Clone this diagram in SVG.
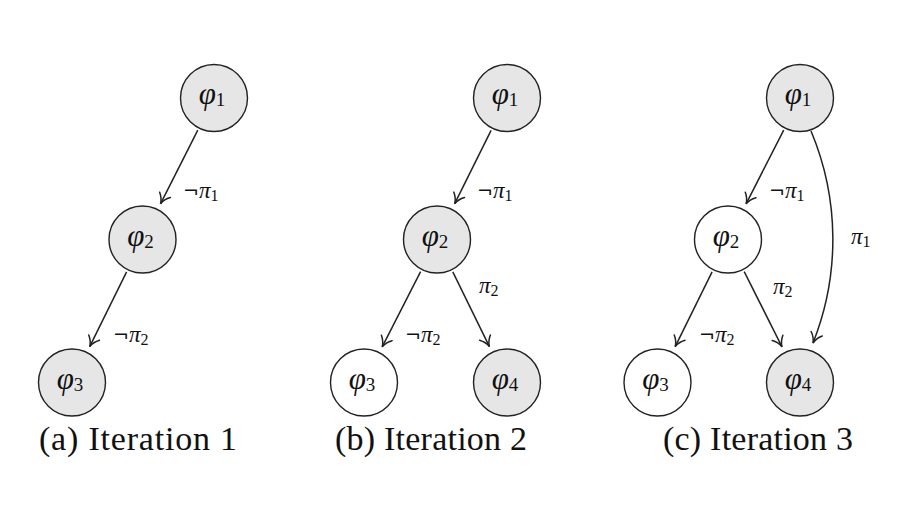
<svg xmlns="http://www.w3.org/2000/svg" width="918" height="517" viewBox="0 0 918 517">
<style>
.node circle{stroke:#222;stroke-width:1.4}
.filled circle{fill:#e6e6e6}
.empty circle{fill:#ffffff}
.edge{fill:none;stroke:#222;stroke-width:1.5;marker-end:url(#arr)}
.nt{font-family:"Liberation Serif",serif;font-size:31px;fill:#111}
.gr{font-style:italic}
.sub{font-family:"Liberation Serif",serif;font-size:19px;font-style:normal}
.lb{font-family:"Liberation Serif",serif;font-size:23px;fill:#111}
.neg{font-family:"DejaVu Sans",sans-serif;font-size:19px}
.lsub{font-family:"Liberation Serif",serif;font-size:16px;font-style:normal}
.cap{font-family:"Liberation Serif",serif;font-size:34px;fill:#111}
</style>
<defs>
<marker id="arr" markerUnits="userSpaceOnUse" markerWidth="14" markerHeight="14" viewBox="-11 -7 13 14" refX="0" refY="0" orient="auto" overflow="visible">
<path d="M-10,-6 C-6.5,-2.2 -2.8,-0.6 0,0 C-2.8,0.6 -6.5,2.2 -10,6" fill="none" stroke="#222" stroke-width="1.5" stroke-linecap="round"/>
</marker>
</defs>
<rect x="0" y="0" width="918" height="517" fill="#ffffff"/>

<g id="connectors">
<path class="edge" d="M197.8,130.1 L160.5,203.8"/>
<path class="edge" d="M126.6,271.8 L89.7,346.6"/>
<path class="edge" d="M491.1,130.3 L454.7,203.7"/>
<path class="edge" d="M420.6,271.6 L382.2,346.9"/>
<path class="edge" d="M452.8,271.8 L489.4,346.6"/>
<path class="edge" d="M783.7,130.1 L746.1,203.9"/>
<path class="edge" d="M712.1,271.8 L675.2,346.6"/>
<path class="edge" d="M744.2,271.6 L782,346.8"/>
<path class="edge" d="M811,131 A280,280 0 0 1 813,343"/>
</g>

<g id="edge-labels" class="lb">
<text x="183" y="198"><tspan class="neg">¬</tspan><tspan class="gr">π</tspan><tspan class="lsub" dy="3">1</tspan></text>
<text x="113" y="342"><tspan class="neg">¬</tspan><tspan class="gr">π</tspan><tspan class="lsub" dy="3">2</tspan></text>
<text x="477" y="198"><tspan class="neg">¬</tspan><tspan class="gr">π</tspan><tspan class="lsub" dy="3">1</tspan></text>
<text x="479" y="293"><tspan class="gr">π</tspan><tspan class="lsub" dy="3">2</tspan></text>
<text x="405" y="342"><tspan class="neg">¬</tspan><tspan class="gr">π</tspan><tspan class="lsub" dy="3">2</tspan></text>
<text x="769" y="198"><tspan class="neg">¬</tspan><tspan class="gr">π</tspan><tspan class="lsub" dy="3">1</tspan></text>
<text x="851" y="244"><tspan class="gr">π</tspan><tspan class="lsub" dy="3">1</tspan></text>
<text x="773" y="294"><tspan class="gr">π</tspan><tspan class="lsub" dy="3">2</tspan></text>
<text x="699" y="342"><tspan class="neg">¬</tspan><tspan class="gr">π</tspan><tspan class="lsub" dy="3">2</tspan></text>
</g>

<g id="a-phi1" class="node filled"><circle cx="214" cy="98" r="33.5"/><text class="nt" x="212" y="104" text-anchor="middle"><tspan class="gr">φ</tspan><tspan class="sub" dy="2">1</tspan></text></g>
<g id="a-phi2" class="node filled"><circle cx="142.5" cy="239.5" r="33.5"/><text class="nt" x="140.5" y="245.5" text-anchor="middle"><tspan class="gr">φ</tspan><tspan class="sub" dy="2">2</tspan></text></g>
<g id="a-phi3" class="node filled"><circle cx="72" cy="382.5" r="33.5"/><text class="nt" x="70" y="388.5" text-anchor="middle"><tspan class="gr">φ</tspan><tspan class="sub" dy="2">3</tspan></text></g>

<g id="b-phi1" class="node filled"><circle cx="507" cy="98" r="33.5"/><text class="nt" x="505" y="104" text-anchor="middle"><tspan class="gr">φ</tspan><tspan class="sub" dy="2">1</tspan></text></g>
<g id="b-phi2" class="node filled"><circle cx="437" cy="239.5" r="33.5"/><text class="nt" x="435" y="245.5" text-anchor="middle"><tspan class="gr">φ</tspan><tspan class="sub" dy="2">2</tspan></text></g>
<g id="b-phi3" class="node empty"><circle cx="364" cy="382.5" r="33.5"/><text class="nt" x="362" y="388.5" text-anchor="middle"><tspan class="gr">φ</tspan><tspan class="sub" dy="2">3</tspan></text></g>
<g id="b-phi4" class="node filled"><circle cx="507" cy="382.5" r="33.5"/><text class="nt" x="505" y="388.5" text-anchor="middle"><tspan class="gr">φ</tspan><tspan class="sub" dy="2">4</tspan></text></g>

<g id="c-phi1" class="node filled"><circle cx="800" cy="98" r="33.5"/><text class="nt" x="798" y="104" text-anchor="middle"><tspan class="gr">φ</tspan><tspan class="sub" dy="2">1</tspan></text></g>
<g id="c-phi2" class="node empty"><circle cx="728" cy="239.5" r="33.5"/><text class="nt" x="726" y="245.5" text-anchor="middle"><tspan class="gr">φ</tspan><tspan class="sub" dy="2">2</tspan></text></g>
<g id="c-phi3" class="node empty"><circle cx="657.5" cy="382.5" r="33.5"/><text class="nt" x="655.5" y="388.5" text-anchor="middle"><tspan class="gr">φ</tspan><tspan class="sub" dy="2">3</tspan></text></g>
<g id="c-phi4" class="node filled"><circle cx="800" cy="382.5" r="33.5"/><text class="nt" x="798" y="388.5" text-anchor="middle"><tspan class="gr">φ</tspan><tspan class="sub" dy="2">4</tspan></text></g>

<g id="captions" class="cap">
<text x="138" y="450" text-anchor="middle" textLength="198" lengthAdjust="spacing">(a) Iteration 1</text>
<text x="431" y="450" text-anchor="middle" textLength="192" lengthAdjust="spacing">(b) Iteration 2</text>
<text x="758" y="450" text-anchor="middle" textLength="190" lengthAdjust="spacing">(c) Iteration 3</text>
</g>
</svg>
